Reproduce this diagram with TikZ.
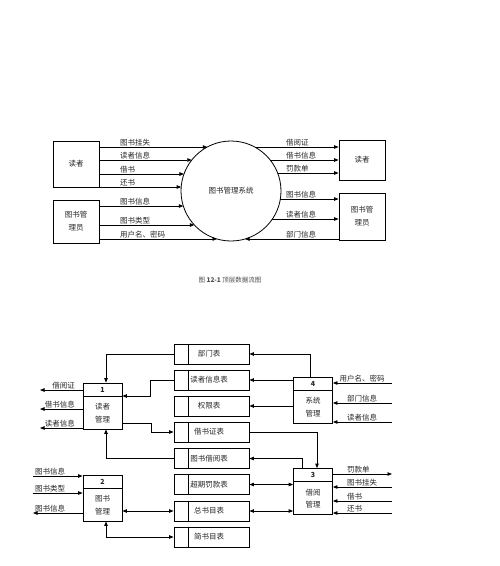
\documentclass[tikz,border=0pt]{standalone}
\usepackage{fontspec}
\newfontfamily\cjk{Noto Sans CJK SC}
\usetikzlibrary{arrows.meta,calc}
\newcommand\procbox[5]{%
  \node[pbox] (#1) at (#2,#3) {};
  \draw[line width=0.8pt] ([yshift=-13.5pt]#1.north west) -- ([yshift=-13.5pt]#1.north east);
  \node[inner sep=0pt,font=\cjk\bfseries\fontsize{7}{8}\selectfont] at ([yshift=-7pt]#1.north) {#4};
  \node[align=center,inner sep=0pt,font=\cjk\fontsize{7.5}{12.5}\selectfont] at ([yshift=-7pt]#1.center) {#5};}
\newcommand\dstore[3]{%
  \node[sbox] (#1) at (211.5,#2) {};
  \draw[line width=0.8pt] ([xshift=15pt]#1.north west) -- ([xshift=15pt]#1.south west);
  \node[inner sep=0pt] at (209,#2) {#3};}
\begin{document}
\begin{tikzpicture}[x=1pt,y=-1pt,
  font=\cjk\fontsize{7.5}{9}\selectfont, text=black!85,
  tip/.tip={Triangle[length=4.5pt,width=3.5pt]},
  flow/.style={draw,line width=0.8pt,-tip},
  bflow/.style={draw,line width=0.8pt,tip-tip},
  ext/.style={draw,line width=0.8pt,minimum width=46pt,align=center,inner sep=0pt,font=\cjk\fontsize{7.5}{13}\selectfont},
  pbox/.style={draw,line width=0.8pt,minimum width=39pt,minimum height=46pt,inner sep=0pt},
  sbox/.style={draw,line width=0.8pt,minimum width=75pt,minimum height=20pt,inner sep=0pt},
  lab/.style={inner sep=0pt,anchor=base west},
  labr/.style={inner sep=0pt,anchor=base east},
  labc/.style={inner sep=0pt,anchor=base}]
\useasboundingbox (0,0) rectangle (500,566);

% ---------- top-level diagram ----------
\node[ext,minimum height=46pt] (rd) at (76,164) {读者};
\node[ext,minimum height=43pt] (gl) at (76,221.5) {图书管\\理员};
\node[ext,minimum height=40pt] (rd2) at (362,160) {读者};
\node[ext,minimum height=47pt] (gl2) at (362,216.5) {图书管\\理员};
\node[draw,circle,minimum size=100pt,inner sep=0pt,outer sep=0pt,line width=0.8pt] (sys) at (231,191) {图书管理系统};

\foreach \yy/\tx in {147/图书挂失,160/读者信息,174/借书,187/还书}{
  \pgfmathsetmacro\dx{sqrt(2500-(\yy-191)*(\yy-191))}
  \draw[flow] (rd.east |- 0,\yy) -- ($(sys.center)+(-\dx,\yy-191)$);
  \node[lab] at (120,\yy-2) {\tx};}
\foreach \yy/\tx in {206/图书信息,225/图书类型,239/用户名、密码}{
  \pgfmathsetmacro\dx{sqrt(2500-(\yy-191)*(\yy-191))}
  \draw[flow] (gl.east |- 0,\yy) -- ($(sys.center)+(-\dx,\yy-191)$);
  \node[lab] at (120,\yy-2) {\tx};}
\foreach \yy/\tx in {147/借阅证,160/借书信息,173/罚款单}{
  \pgfmathsetmacro\dx{sqrt(2500-(\yy-191)*(\yy-191))}
  \draw[flow] ($(sys.center)+(\dx,\yy-191)$) -- (rd2.west |- 0,\yy);
  \node[lab] at (286,\yy-2) {\tx};}
\foreach \yy/\tx in {199/图书信息,219/读者信息}{
  \pgfmathsetmacro\dx{sqrt(2500-(\yy-191)*(\yy-191))}
  \draw[flow] ($(sys.center)+(\dx,\yy-191)$) -- (gl2.west |- 0,\yy);
  \node[lab] at (286,\yy-2) {\tx};}
\pgfmathsetmacro\dx{sqrt(2500-48*48)}
\draw[flow] (gl2.west |- 0,239) -- ($(sys.center)+(\dx,48)$);
\node[lab] at (286,237) {部门信息};

\node[text=black!70,font=\cjk\fontsize{6.5}{8}\selectfont] (cap) at (230,280) {图 {\bfseries 12-1} 顶层数据流图};

% ---------- first-level diagram ----------
\dstore{s1}{354}{部门表}
\dstore{s2}{380}{读者信息表}
\dstore{s3}{406}{权限表}
\dstore{s4}{432}{借书证表}
\dstore{s5}{458.5}{图书借阅表}
\dstore{s6}{484.5}{超期罚款表}
\dstore{s7}{511}{总书目表}
\dstore{s8}{537}{简书目表}

\procbox{p1}{102.5}{406}{1}{读者\\管理}
\procbox{p4}{313}{400}{4}{系统\\管理}
\procbox{p2}{102.5}{498}{2}{图书\\管理}
\procbox{p3}{313}{491.5}{3}{借阅\\管理}

\draw[flow] (s1.west) -| ([xshift=3.5pt]p1.north);
\draw[flow] (s2.west) -- ++(-23,0) |- ([yshift=10pt]p1.east);
\draw[flow] ([yshift=-17pt]p1.east) -- ++(29,0) |- (s4.west);
\draw[flow] (s5.west) -| ([xshift=3.5pt]p1.south);
\draw[flow] ([xshift=-3pt]p4.north) |- (s1.east);
\draw[flow] (p4.west |- s2.east) -- (s2.east);
\draw[flow] (p4.west |- s3.east) -- (s3.east);
\draw[flow] (s4.east) -| ([xshift=4pt]p3.north);
\draw[flow] ([xshift=-11pt]p3.north) |- (s5.east);
\draw[bflow] (s6.east) -- (p3.west |- s6.east);
\draw[bflow] (s7.east) -- (p3.west |- s7.east);
\draw[bflow] (p2.east |- s7.west) -- (s7.west);
\draw[bflow] ([xshift=3.5pt]p2.south) |- (s8.west);

\foreach \yy/\tx in {390/借阅证,409/借书信息,428/读者信息}{
  \draw[flow] (p1.west |- 0,\yy) -- (40,\yy);
  \node[labr] at (75,\yy-1.5) {\tx};}
\foreach \yy/\tx in {383/用户名、密码,403/部门信息,422/读者信息}{
  \draw[flow] (392,\yy) -- (p4.east |- 0,\yy);
  \node[labc] at (362,\yy-1.5) {\tx};}
\foreach \yy/\tx in {476/图书信息,493/图书类型}{
  \draw[flow] (33,\yy) -- (p2.west |- 0,\yy);
  \node[lab] at (35,\yy-1.5) {\tx};}
\draw[flow] (p2.west |- 0,513) -- (33,513);
\node[lab] at (35,511.5) {图书信息};
\draw[flow] (p3.east |- 0,474) -- (392,474);
\node[lab] at (347,472.5) {罚款单};
\foreach \yy/\tx in {487/图书挂失,501/借书,513/还书}{
  \draw[flow] (392,\yy) -- (p3.east |- 0,\yy);
  \node[lab] at (347,\yy-1.5) {\tx};}
\end{tikzpicture}
\end{document}
